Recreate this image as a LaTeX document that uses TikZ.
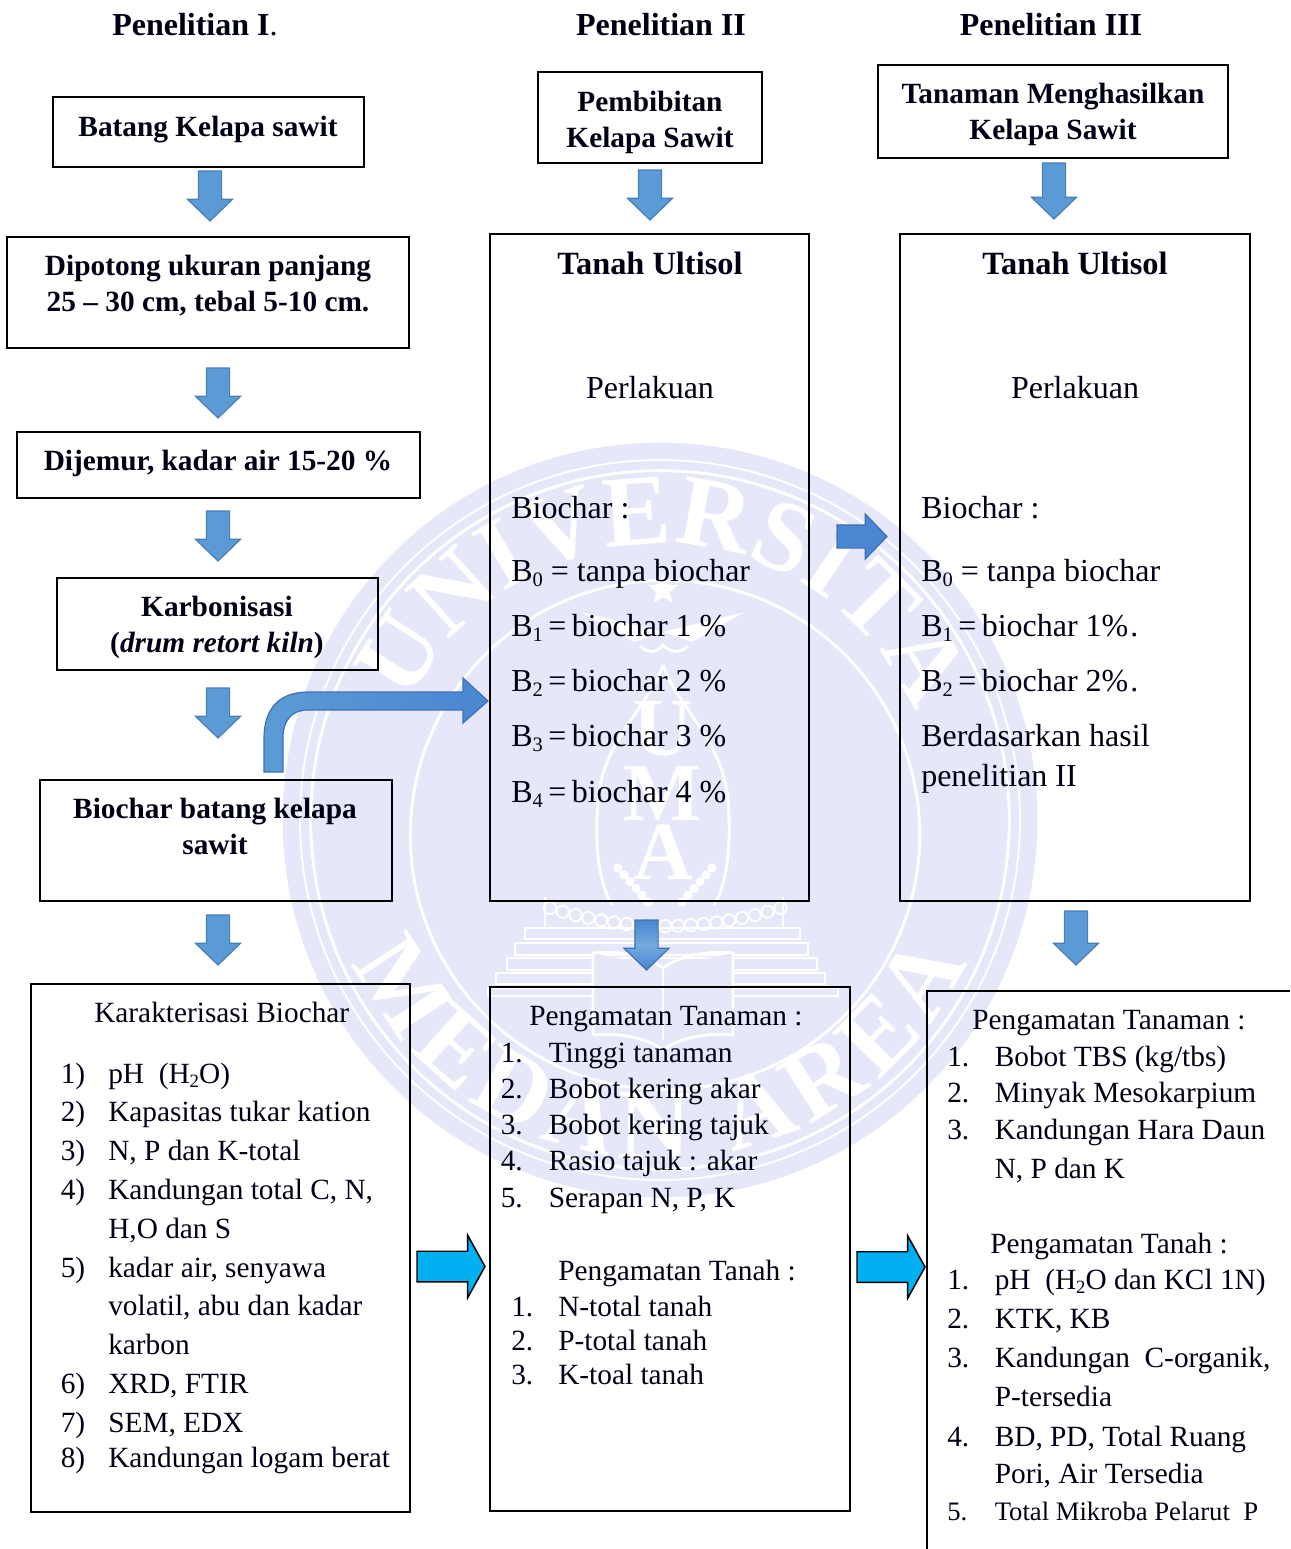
\documentclass[tikz,border=0pt]{standalone}
\usepackage{fontspec}
\setmainfont{Liberation Serif}
\usetikzlibrary{shapes.arrows,shapes.geometric,decorations.text}
\definecolor{wm}{HTML}{E6E7F9}
\definecolor{ablue}{HTML}{5B9BD5}
\definecolor{ablueb}{HTML}{4A7FB5}
\definecolor{ablue2}{HTML}{4A86D2}
\definecolor{acyan}{HTML}{00B0F0}
\newcommand\bodyf{\fontsize{22}{26}\selectfont}
\newcommand\treatf{\fontsize{24}{28}\selectfont}
\newcommand\smallf{\fontsize{20}{24}\selectfont}
\newcommand\headf{\fontsize{24}{28}\selectfont\bfseries}
\newcommand\soilf{\fontsize{24.3}{28}\selectfont\bfseries}
\newcommand\boldf{\fontsize{22}{26}\selectfont\bfseries}
\newcommand\wmf{\color{white}\fontsize{76}{76}\selectfont\bfseries}
\newcommand\sbs[1]{\raisebox{-0.16em}{\scalebox{0.64}{#1}}}
\newcommand\tighteq{\hspace{0.17em}=\hspace{0.17em}}
\newcounter{lblc}
% left-aligned line: x, baseline y, text
\newcommand\lbl[4][\bodyf]{\stepcounter{lblc}\node[linetext,font=#1] (l\arabic{lblc}) at (#2,#3) {#4};}
% centred line: x, baseline y, text
\newcommand\clbl[4][\boldf]{\stepcounter{lblc}\node[linetextc,font=#1] (l\arabic{lblc}) at (#2,#3) {#4};}
% box: name, x1, y1, x2, y2
\newcommand\bx[5]{\node[flowbox,minimum width={(#4-#2)*0.75pt},minimum height={(#5-#3)*0.75pt}] (#1) at ({(#2+#4)/2},{(#3+#5)/2}) {};}
\tikzset{
  flowbox/.style={draw=black,line width=1.1pt,inner sep=0pt,fill=none},
  linetext/.style={anchor=base west,inner sep=0pt,text=black!92!blue},
  linetextc/.style={anchor=base,inner sep=0pt,text=black!92!blue},
  blockbase/.style={single arrow,anchor=tip,inner sep=8.25pt,outer sep=0pt,minimum width=33pt,minimum height=37.5pt,
     single arrow head extend=8.25pt,single arrow tip angle=92,draw=ablueb,line width=0.9pt,fill=ablue},
  downarrow/.style={blockbase,shape border rotate=270},
  rightarrow/.style={blockbase,fill=ablue2,draw=ablue2!85!black},
  cyanarrow/.style={single arrow,anchor=tip,inner sep=10.9pt,outer sep=0pt,minimum width=45.75pt,minimum height=51pt,
     single arrow head extend=12pt,single arrow tip angle=122,draw=black,line width=1.1pt,fill=acyan},
  wmline/.style={draw=white,line width=2.2pt},
  wmthin/.style={draw=white,line width=1.4pt},
  wmletter/.style={text=white,inner sep=0pt,font=\fontsize{62}{62}\selectfont\bfseries}
}
\begin{document}
\begin{tikzpicture}[x=0.75pt,y=-0.75pt]
\useasboundingbox (0,0) rectangle (1290,1549);
\fill[white] (0,0) rectangle (1290,1549);
% ---------- watermark seal
\coordinate (sc) at (660,820);
\fill[wm] (sc) circle[radius=283pt];
\draw[wmthin] (sc) circle[radius=270pt];
\draw[wmline] (sc) circle[radius=262pt];
\draw[wmline] (665,835) circle[radius=191pt];
\path[decorate,decoration={text along path,text align=fit to path,
   text={|\wmf|UNIVERSITAS}}] ([shift={(sc)}]155:207pt) arc[start angle=155,end angle=20,radius=207pt];
\path[decorate,decoration={text along path,text align=fit to path,
   text={|\wmf|MEDAN AREA}}] ([shift={(sc)}]205:254pt) arc[start angle=205,end angle=335,radius=254pt];
\node[star,star points=5,star point ratio=2.3,fill=white,inner sep=0pt,minimum size=24pt] (wstar) at (663,590) {};
\fill[white] (663,632) -- (745,612) -- (692,642) -- cycle;
\fill[white] (663,632) -- (581,612) -- (634,642) -- cycle;
\draw[wmline] (640,646) .. controls (650,656) and (660,650) .. (663,645) .. controls (668,650) and (678,656) .. (688,646);
\draw[wmline] (663,665) .. controls (650,705) and (603,740) .. (598,800) .. controls (594,850) and (600,885) .. (612,905);
\draw[wmline] (663,665) .. controls (676,705) and (723,740) .. (728,800) .. controls (732,850) and (726,885) .. (714,905);
\node[wmletter] (wU) at (663,729) {U};
\node[wmletter] (wM) at (663,793) {M};
\node[wmletter] (wA) at (663,852) {A};
\foreach \t in {0,0.2,0.4,0.6,0.8,1}{
  \fill[white] ({618+\t*30},{868+\t*34}) circle[radius=3.5pt];
  \fill[white] ({712-\t*30},{868+\t*34}) circle[radius=3.5pt];
}
\foreach \t in {0,1,...,18}{
  \draw[wmthin] ({550+\t*12.8},{908+18*(1-((\t-9)/9)^2)}) circle[radius=4.6pt];
}
\draw[wmline] (545,897) -- (545,928);
\draw[wmline] (783,897) -- (783,928);
\draw[wmthin] (525,928) rectangle (800,939);
\draw[wmthin] (515,943) rectangle (808,955);
\draw[wmthin] (507,958) rectangle (817,970);
\draw[wmthin] (496,973) rectangle (825,984);
\draw[wmthin] (488,988) rectangle (838,996);
\fill[wm] (593,953) -- (663,968) -- (733,953) -- (733,1035) -- (663,1050) -- (593,1035) -- cycle;
\draw[wmline] (593,1035) -- (593,953) .. controls (625,950) and (650,958) .. (663,968) .. controls (676,958) and (701,950) .. (733,953) -- (733,1035);
\draw[wmline] (663,968) -- (663,1040);
\draw[wmline] (593,1035) .. controls (625,1032) and (650,1040) .. (663,1050) .. controls (676,1040) and (701,1032) .. (733,1035);
% ---------- boxes
\bx{b1}{53}{97}{364}{167}
\bx{b2}{7}{237}{409}{348}
\bx{b3}{17}{432}{420}{498}
\bx{b4}{57}{578}{378}{670}
\bx{b5}{40}{780}{392}{901}
\bx{b6}{31}{984}{410}{1512}
\bx{b7}{538}{72}{762}{163}
\bx{b8}{878}{65}{1228}{158}
\bx{b9}{490}{234}{809}{901}
\bx{b10}{900}{234}{1250}{901}
\bx{b11}{490}{987}{850}{1511}
\coordinate (b12a) at (927,1549);
\coordinate (b12b) at (927,991);
\coordinate (b12c) at (1290,991);
\draw[black,line width=1.1pt] (b12a) -- (b12b) -- (b12c);
% ---------- block arrows (placed by their tips)
\node[downarrow] (a1) at (210,221) {};
\node[downarrow] (a2) at (218,418) {};
\node[downarrow] (a3) at (218,561) {};
\node[downarrow] (a4) at (218,738) {};
\node[downarrow] (a5) at (218,965) {};
\node[downarrow] (a6) at (650,220) {};
\node[downarrow,top color=ablue2,bottom color=ablue2,middle color=ablue!85!white,draw=ablue2!85!black] (a7) at (646.5,970) {};
\node[downarrow,minimum height=42pt] (a8) at (1054,219) {};
\node[downarrow,minimum height=40.5pt] (a9) at (1076,965) {};
\node[rightarrow] (a10) at (887,536.5) {};
\node[cyanarrow] (a11) at (485,1266.5) {};
\node[cyanarrow] (a12) at (925,1267) {};
\shade[left color=ablue,right color=ablue2,draw=ablue2!85!black,line width=0.9pt]
  (264,772) -- (264,738) .. controls (264,708) and (280,692) .. (308,692) -- (463,692) -- (463,678) -- (488,701)
  -- (463,723) -- (463,710) -- (308,710) .. controls (292,710) and (283,720) .. (283,738) -- (283,772) -- cycle;
% ---------- titles
\stepcounter{lblc}\node[linetext,font=\headf] (t1) at (112,35) {Penelitian I\textmd{.}};
\stepcounter{lblc}\node[linetextc,font=\headf] (t2) at (661,35) {Penelitian II};
\stepcounter{lblc}\node[linetextc,font=\headf] (t3) at (1051,35) {Penelitian III};
% ---------- bold box texts
\clbl{208}{136}{Batang Kelapa sawit}
\clbl{208}{275}{Dipotong ukuran panjang}
\clbl{208}{311}{25 – 30 cm, tebal 5-10 cm.}
\clbl{218}{470}{Dijemur, kadar air 15-20 \%}
\clbl{217}{616}{Karbonisasi}
\clbl{217}{652}{(\textit{drum retort kiln})}
\clbl{215}{818}{Biochar batang kelapa}
\clbl{215}{854}{sawit}
\clbl{650}{111}{Pembibitan}
\clbl{650}{147}{Kelapa Sawit}
\clbl{1053}{103}{Tanaman Menghasilkan}
\clbl{1053}{139}{Kelapa Sawit}
% ---------- box 6
\lbl{94}{1022}{Karakterisasi Biochar}
\lbl{60.5}{1083}{1)}\lbl{108}{1083}{pH\ \ (H\sbs{2}O)}
\lbl{60.5}{1121}{2)}\lbl{108}{1121}{Kapasitas tukar kation}
\lbl{60.5}{1160}{3)}\lbl{108}{1160}{N, P dan K-total}
\lbl{60.5}{1199}{4)}\lbl{108}{1199}{Kandungan total C, N,}
\lbl{108}{1238}{H,O dan S}
\lbl{60.5}{1277}{5)}\lbl{108}{1277}{kadar air, senyawa}
\lbl{108}{1315}{volatil, abu dan kadar}
\lbl{108}{1354}{karbon}
\lbl{60.5}{1393}{6)}\lbl{108}{1393}{XRD, FTIR}
\lbl{60.5}{1432}{7)}\lbl{108}{1432}{SEM, EDX}
\lbl{60.5}{1467}{8)}\lbl{108}{1467}{Kandungan logam berat}
% ---------- box 9
\clbl[\soilf]{650}{274}{Tanah Ultisol}
\clbl[\treatf]{650}{398}{Perlakuan}
\lbl[\treatf]{511}{518}{Biochar :}
\lbl[\treatf]{511}{581}{B\sbs{0} = tanpa biochar}
\lbl[\treatf]{511}{636}{B\sbs{1}\tighteq biochar 1 \%}
\lbl[\treatf]{511}{691}{B\sbs{2}\tighteq biochar 2 \%}
\lbl[\treatf]{511}{746}{B\sbs{3}\tighteq biochar 3 \%}
\lbl[\treatf]{511}{802}{B\sbs{4}\tighteq biochar 4 \%}
% ---------- box 10
\clbl[\soilf]{1075}{274}{Tanah Ultisol}
\clbl[\treatf]{1075}{398}{Perlakuan}
\lbl[\treatf]{921}{518}{Biochar :}
\lbl[\treatf]{921}{581}{B\sbs{0} = tanpa biochar}
\lbl[\treatf]{921}{636}{B\sbs{1}\tighteq biochar 1\%\hspace{0.06em}.}
\lbl[\treatf]{921}{691}{B\sbs{2}\tighteq biochar 2\%\hspace{0.06em}.}
\lbl[\treatf]{921}{746}{Berdasarkan hasil}
\lbl[\treatf]{921}{786}{penelitian II}
% ---------- box 11
\lbl{529}{1025}{Pengamatan Tanaman :}
\lbl{500.5}{1062}{1.}\lbl{548.5}{1062}{Tinggi tanaman}
\lbl{500.5}{1098}{2.}\lbl{548.5}{1098}{Bobot kering akar}
\lbl{500.5}{1134}{3.}\lbl{548.5}{1134}{Bobot kering tajuk}
\lbl{500.5}{1170}{4.}\lbl{548.5}{1170}{Rasio tajuk : akar}
\lbl{500.5}{1207}{5.}\lbl{548.5}{1207}{Serapan N, P, K}
\lbl{558}{1280}{Pengamatan Tanah :}
\lbl{511}{1316}{1.}\lbl{558}{1316}{N-total tanah}
\lbl{511}{1350}{2.}\lbl{558}{1350}{P-total tanah}
\lbl{511}{1384}{3.}\lbl{558}{1384}{K-toal tanah}
% ---------- box 12
\lbl{972}{1029}{Pengamatan Tanaman :}
\lbl{947}{1066}{1.}\lbl{994.5}{1066}{Bobot TBS (kg/tbs)}
\lbl{947}{1102}{2.}\lbl{994.5}{1102}{Minyak Mesokarpium}
\lbl{947}{1139}{3.}\lbl{994.5}{1139}{Kandungan Hara Daun}
\lbl{994.5}{1178}{N, P dan K}
\lbl{990}{1253}{Pengamatan Tanah :}
\lbl{947}{1289}{1.}\lbl{994.5}{1289}{pH\ \ (H\sbs{2}O dan KCl 1N)}
\lbl{947}{1328}{2.}\lbl{994.5}{1328}{KTK, KB}
\lbl{947}{1367}{3.}\lbl{994.5}{1367}{Kandungan\ \ C-organik,}
\lbl{994.5}{1406}{P-tersedia}
\lbl{947}{1446}{4.}\lbl{994.5}{1446}{BD, PD, Total Ruang}
\lbl{994.5}{1483}{Pori, Air Tersedia}
\lbl[\smallf]{947}{1520}{5.}\lbl[\smallf]{994.5}{1520}{Total Mikroba Pelarut\ \ P}
\end{tikzpicture}
\end{document}
